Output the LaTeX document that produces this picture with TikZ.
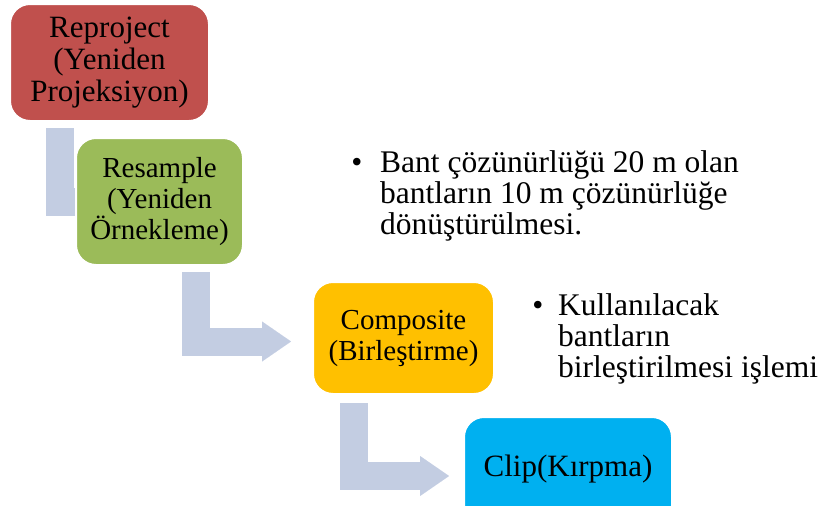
\documentclass[tikz,border=0pt]{standalone}
\usepackage{fontspec}
\setmainfont{Liberation Serif}
\usetikzlibrary{arrows.meta,calc,backgrounds}
\definecolor{cred}{HTML}{C0504D}
\definecolor{cgreen}{HTML}{9BBB59}
\definecolor{corange}{HTML}{FFC000}
\definecolor{cblue}{HTML}{00B0F0}
\definecolor{carrow}{RGB}{195,205,226}
\begin{document}
\begin{tikzpicture}[x=1pt,y=-1pt,
  box/.style={rounded corners=20pt, draw=white, line width=2pt, align=center, inner sep=0pt},
  bigfont/.style={font=\fontsize{31}{32}\selectfont},
  midfont/.style={font=\fontsize{29}{31}\selectfont},
  txt/.style={inner sep=0pt, align=left, font=\fontsize{31.5}{31}\selectfont},
  flow/.style={draw=carrow, line width=28pt, line join=miter,
    -{Triangle[length=29pt,width=40pt,line width=0.01pt]}}]
\useasboundingbox (0,0) rectangle (825,506);
\clip (0,0) rectangle (825,506);

\node[box, bigfont, fill=cred, minimum width=199pt, minimum height=117pt] (r) at (109.5,62.5)
  {Reproject\\(Yeniden\\Projeksiyon)};
\node[box, midfont, fill=cgreen, minimum width=167pt, minimum height=127pt] (g) at (159.5,201.5)
  {Resample\\(Yeniden\\Örnekleme)};
\node[box, midfont, fill=corange, minimum width=181pt, minimum height=112pt] (o) at (403.5,338)
  {Composite\\(Birleştirme)};
\node[box, bigfont, fill=cblue, minimum width=208pt, minimum height=113pt, text depth=0pt] (b) at (568,473.5)
  {\raisebox{16pt}{Clip(Kırpma)}};

\node[txt, anchor=base] (d1) at (357,172) {\textbullet};
\node[txt, anchor=north west] (t1) at (380,150.5)
  {Bant çözünürlüğü 20 m olan\\bantların 10 m çözünürlüğe\\dönüştürülmesi.};
\node[txt, anchor=base] (d2) at (538,315) {\textbullet};
\node[txt, anchor=north west] (t2) at (558,293.5)
  {Kullanılacak\\bantların\\birleştirilmesi işlemi};

\begin{scope}[on background layer]
  \draw[flow] ($(r.south)+(-49.5,6)$) |- ($(g.west)+(40,0)$);
  \draw[flow] ($(g.south)+(36.5,6)$) |- ($(o.west)+(-21,3.5)$);
  \draw[flow] ($(o.south)+(-49.5,8)$) |- ($(b.west)+(-14,2.5)$);
\end{scope}
\end{tikzpicture}
\end{document}
